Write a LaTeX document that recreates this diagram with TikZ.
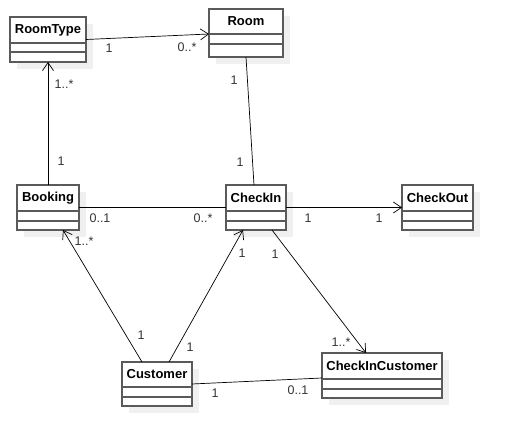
\documentclass[tikz,border=0pt]{standalone}
\usepackage{fontspec}
\setmainfont{Liberation Sans}
\usetikzlibrary{arrows.meta,calc}
\definecolor{shadowc}{HTML}{F0F0F0}
\definecolor{boxc}{HTML}{5A5A5A}
\definecolor{labc}{HTML}{333333}
\tikzset{
  classbox/.style={draw=boxc, line width=1.3pt, fill=white, inner sep=0pt, outer sep=0pt, rectangle},
  classtitle/.style={inner sep=0pt, font=\fontsize{13}{15}\selectfont\bfseries},
  classline/.style={draw=boxc, line width=1.3pt},
  assoc/.style={draw=black, line width=0.7pt},
  navig/.style={assoc, -{Straight Barb[length=8pt,width=11pt,line width=0.7pt]}},
  mult/.style={inner sep=0pt, text=labc, font=\fontsize{12.5}{14}\selectfont},
}
\newcommand\umlclass[8]{%
  \fill[shadowc] (#2+7,#3+7) rectangle (#4+7,#5+7);
  \node[classbox, minimum width={#4-#2}, minimum height={#5-#3}] (#1) at ({(#2+#4)/2},{(#3+#5)/2}) {};
  \node[classtitle] (#1-t) at ({(#2+#4)/2},{(#3+#6)/2}) {#8};
  \draw[classline] (#2,#6) -- (#4,#6) (#2,#7) -- (#4,#7);
}
\begin{document}
\begin{tikzpicture}[x=1pt,y=-1pt]
\useasboundingbox (0,0) rectangle (512,446);
\umlclass{RT}{10}{17}{86}{62}{43}{52}{RoomType}
\umlclass{Room}{209}{9}{283}{57}{34}{44}{Room}
\umlclass{Bk}{17}{185}{79}{230}{211}{221}{Booking}
\umlclass{CI}{226}{185}{286}{230}{211}{221}{CheckIn}
\umlclass{CO}{402}{185}{473}{230}{211}{221}{CheckOut}
\umlclass{Cu}{122}{362}{192}{406}{387}{397}{Customer}
\umlclass{CIC}{322}{353}{442}{398}{379}{389}{CheckInCustomer}
% connectors
\draw[navig] (RT.east) -- ([yshift=-1pt]Room.west);
\draw[navig] (Bk.north) -- (RT.south);
\draw[assoc] (Room.south) -- ([xshift=-2pt]CI.north);
\draw[assoc] (Bk.east) -- (CI.west);
\draw[navig] (CI.east) -- (CO.west);
\draw[navig] ([xshift=-15pt]Cu.north) -- ([xshift=15pt]Bk.south);
\draw[navig] ([xshift=12pt]Cu.north) -- ([xshift=-13pt]CI.south);
\draw[navig] ([xshift=16pt]CI.south) -- ([xshift=-16pt]CIC.north);
\draw[assoc] (Cu.east) -- ([yshift=-2.5pt]CIC.west);
% multiplicities
\node[mult] (m1) at (109,48) {1};
\node[mult] (m2) at (187,47) {0..*};
\node[mult] (m3) at (64,84) {1..*};
\node[mult] (m4) at (61,161) {1};
\node[mult] (m5) at (234,80) {1};
\node[mult] (m6) at (240,162) {1};
\node[mult] (m7) at (100,218) {0..1};
\node[mult] (m8) at (203,218) {0..*};
\node[mult] (m9) at (308,218) {1};
\node[mult] (m10) at (379,218) {1};
\node[mult] (m11) at (84,241) {1..*};
\node[mult] (m12) at (141,335) {1};
\node[mult] (m13) at (242,253) {1};
\node[mult] (m14) at (190,347) {1};
\node[mult] (m15) at (275,254) {1};
\node[mult] (m16) at (341,342) {1..*};
\node[mult] (m17) at (215,393) {1};
\node[mult] (m18) at (298,390) {0..1};
\end{tikzpicture}
\end{document}
